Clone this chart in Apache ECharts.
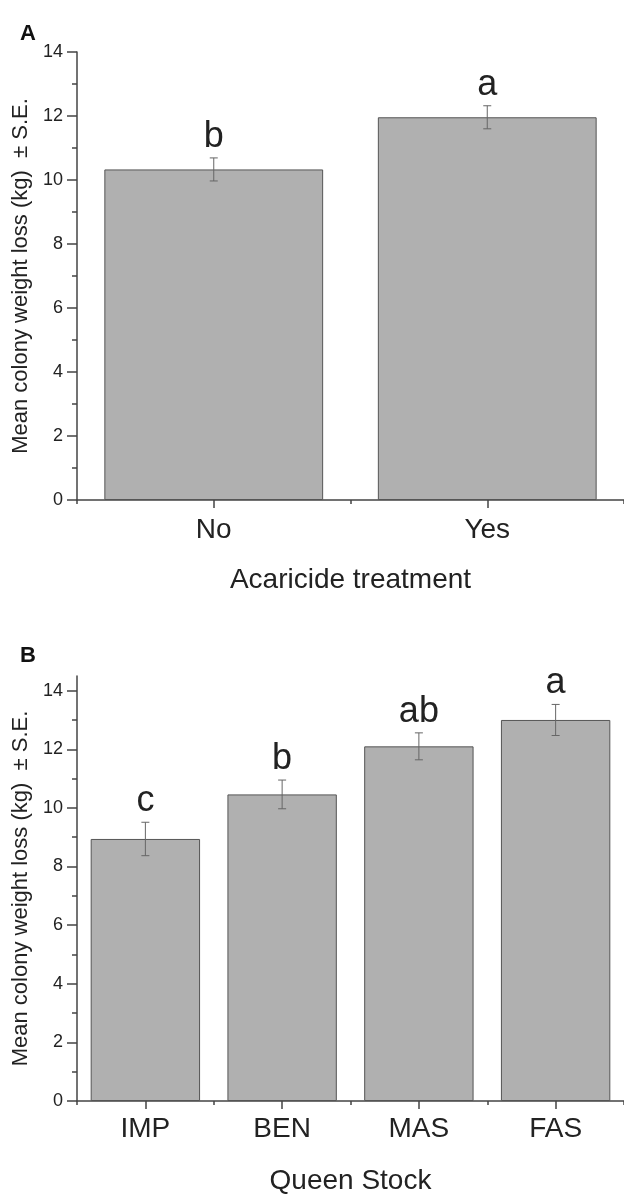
<!DOCTYPE html>
<html><head><meta charset="utf-8">
<script src="https://cdn.jsdelivr.net/npm/echarts@6/dist/echarts.min.js"></script>
<style>html,body{margin:0;padding:0;background:#fff}#c{width:624px;height:1196px}</style>
</head><body><div id="c"></div>
<script>
// Panel A
const catsA = ['No', 'Yes'];
const meanA = [10.33, 11.96];
const seA = [0.36, 0.36];
const letA = ['b', 'a'];
// Panel B
const catsB = ['IMP', 'BEN', 'MAS', 'FAS'];
const meanB = [8.94, 10.46, 12.10, 13.00];
const seB = [0.57, 0.49, 0.46, 0.53];
const letB = ['c', 'b', 'ab', 'a'];
// Y ticks (both panels)
const majorTicks = [0, 2, 4, 6, 8, 10, 12, 14];
const minorTicks = [1, 3, 5, 7, 9, 11, 13];
const yTitle = 'Mean colony weight loss (kg)  \u00B1 S.E.';
const xTitleA = 'Acaricide treatment';
const xTitleB = 'Queen Stock';

const FONT = 'Liberation Sans';
const AX = '#444';
const TXT = '#222';

function errItem(lets) {
  return function (params, api) {
    const i = api.value(0), m = api.value(1), s = api.value(2);
    const t = api.coord([i, m + s]), b = api.coord([i, m - s]);
    const x = t[0], w = 4;
    const st = {stroke: '#666', lineWidth: 1};
    return {type: 'group', children: [
      {type: 'line', shape: {x1: x, y1: t[1], x2: x, y2: b[1]}, style: st},
      {type: 'line', shape: {x1: x - w, y1: t[1], x2: x + w, y2: t[1]}, style: st},
      {type: 'line', shape: {x1: x - w, y1: b[1], x2: x + w, y2: b[1]}, style: st},
      {type: 'text', x: x, y: t[1] - 3, style: {text: lets[i], fontSize: 36, fontFamily: FONT, fill: TXT, align: 'center', verticalAlign: 'bottom'}}
    ]};
  };
}

function yMain(gi, max) {
  return {
    gridIndex: gi, type: 'value', position: 'left', min: 0, max: max,
    name: yTitle, nameLocation: 'middle', nameGap: 38,
    nameTextStyle: {fontSize: 22, fontFamily: FONT, color: TXT},
    axisLine: {show: true, lineStyle: {color: AX, width: 1.5}},
    axisTick: {show: true, length: 10, customValues: majorTicks, lineStyle: {color: AX, width: 1.5}},
    splitLine: {show: false},
    axisLabel: {fontSize: 18, fontFamily: FONT, color: TXT, margin: 14, customValues: majorTicks}
  };
}
function yMinor(gi, max) {
  return {
    gridIndex: gi, type: 'value', position: 'left', min: 0, max: max,
    axisLine: {show: false}, splitLine: {show: false}, axisLabel: {show: false},
    axisTick: {show: true, length: 5, customValues: minorTicks, lineStyle: {color: AX, width: 1.5}}
  };
}

function xMain(gi, cats, title, margin) {
  return {
    gridIndex: gi, type: 'category', data: cats, position: 'bottom',
    name: title, nameLocation: 'middle', nameGap: 66,
    nameTextStyle: {fontSize: 28, fontFamily: FONT, color: TXT},
    axisLine: {show: true, lineStyle: {color: AX, width: 1.5}},
    axisTick: {show: true, alignWithLabel: true, length: 8, lineStyle: {color: AX, width: 1.5}},
    axisLabel: {fontSize: 28, fontFamily: FONT, color: TXT, margin: margin}
  };
}
function xMinor(gi, cats) {
  return {
    gridIndex: gi, type: 'category', data: cats, position: 'bottom',
    axisLine: {show: false}, axisLabel: {show: false},
    axisTick: {show: true, length: 4, lineStyle: {color: AX, width: 1.5}}
  };
}

const barStyle = {color: '#b0b0b0', borderColor: '#555', borderWidth: 1};

const option = {
  animation: false,
  backgroundColor: '#fff',
  title: [
    {text: 'A', left: 15, top: 18, textStyle: {fontSize: 22, fontWeight: 'bold', fontFamily: FONT, color: '#111'}},
    {text: 'B', left: 15, top: 640, textStyle: {fontSize: 22, fontWeight: 'bold', fontFamily: FONT, color: '#111'}}
  ],
  grid: [
    {left: 77, top: 52, width: 556, height: 448},
    {left: 77, top: 676, width: 556, height: 432}
  ],
  xAxis: [xMain(0, catsA, xTitleA, 16), xMinor(0, catsA), xMain(1, catsB, xTitleB, 14), xMinor(1, catsB)],
  yAxis: [yMain(0, 14), yMinor(0, 14), yMain(1, 14.5), yMinor(1, 14.5)],
  series: [
    {type: 'bar', xAxisIndex: 0, yAxisIndex: 0, data: meanA, barWidth: '80%', itemStyle: barStyle},
    {type: 'custom', xAxisIndex: 0, yAxisIndex: 0, renderItem: errItem(letA), clip: false, z: 5,
      encode: {x: 0, y: 1}, data: catsA.map((c, i) => [i, meanA[i], seA[i]])},
    {type: 'bar', xAxisIndex: 2, yAxisIndex: 2, data: meanB, barWidth: '80%', itemStyle: barStyle},
    {type: 'custom', xAxisIndex: 2, yAxisIndex: 2, renderItem: errItem(letB), clip: false, z: 5,
      encode: {x: 0, y: 1}, data: catsB.map((c, i) => [i, meanB[i], seB[i]])}
  ]
};
const chart = echarts.init(document.getElementById('c'), null, {renderer: 'canvas'});
chart.setOption(option);
</script></body></html>
